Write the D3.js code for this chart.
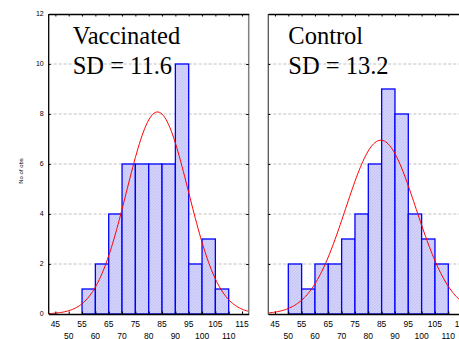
<!DOCTYPE html>
<html>
<head>
<meta charset="utf-8">
<script src="https://cdn.jsdelivr.net/npm/d3@7"></script>
<style>
  body { margin: 0; background: #fff; }
  svg { display: block; }
  .serif { font-family: "Liberation Serif", "Times New Roman", serif; }
  .sans { font-family: "Liberation Sans", Arial, sans-serif; }
</style>
</head>
<body>
<svg id="chart" width="459" height="339"></svg>
<script>
// bins are 5 units wide, starting value listed
const binStarts = [50, 55, 60, 65, 70, 75, 80, 85, 90, 95, 100, 105];
const vaccinatedCounts = [0, 1, 2, 4, 6, 6, 6, 6, 10, 2, 3, 1];
const controlCounts = [2, 1, 2, 2, 3, 4, 6, 9, 8, 4, 3, 2];
const vaccinatedFit = { mean: 83.3, sd: 11.6 };
const controlFit = { mean: 84.7, sd: 13.2 };
const xTicksUpper = [45, 55, 65, 75, 85, 95, 105, 115];
const xTicksLower = [50, 60, 70, 80, 90, 100, 110];
const yTicks = [0, 2, 4, 6, 8, 10, 12];
const binWidth = 5;

const svg = d3.select('#chart');
const plotTop = 14, plotBottom = 314, panelW = 200;

const defs = svg.append('defs');
const pat = defs.append('pattern')
    .attr('id', 'hatch')
    .attr('patternUnits', 'userSpaceOnUse')
    .attr('width', 3).attr('height', 3);
pat.append('rect').attr('width', 3).attr('height', 3).attr('fill', '#d2d2fa');
pat.append('path').attr('d', 'M-1,1 l2,-2 M0,3 l3,-3 M2,4 l2,-2')
    .attr('stroke', '#b9b9f0').attr('stroke-width', 0.6);

const y = d3.scaleLinear().domain([0, 12]).range([plotBottom, plotTop]);

function drawPanel(left, counts, fit, title, sdText, textX, showY) {
    const x = d3.scaleLinear().domain([42.5, 117.5]).range([left, left + panelW]);
    const clipId = 'clip' + Math.round(left);
    defs.append('clipPath').attr('id', clipId)
        .append('rect').attr('x', left).attr('y', plotTop)
        .attr('width', panelW).attr('height', plotBottom - plotTop);

    const g = svg.append('g');

    // grid
    g.selectAll('.grid').data(yTicks.filter(d => d > 0 && d < 12)).enter()
        .append('line')
        .attr('x1', left).attr('x2', left + panelW)
        .attr('y1', d => y(d)).attr('y2', d => y(d))
        .attr('stroke', '#b0b0b0').attr('stroke-width', 0.8)
        .attr('stroke-dasharray', '3,2');

    // titles
    g.append('text').attr('class', 'serif').attr('x', textX).attr('y', 44)
        .attr('font-size', 24.5).text(title);
    g.append('text').attr('class', 'serif').attr('x', textX).attr('y', 74)
        .attr('font-size', 24.5).text(sdText);

    // bars
    const data = binStarts.map((s, i) => ({ s, c: counts[i] })).filter(d => d.c > 0);
    g.append('g').attr('clip-path', `url(#${clipId})`)
        .selectAll('rect').data(data).enter()
        .append('rect')
        .attr('x', d => x(d.s))
        .attr('width', d => x(d.s + binWidth) - x(d.s))
        .attr('y', d => y(d.c))
        .attr('height', d => y(0) - y(d.c))
        .attr('fill', 'url(#hatch)')
        .attr('stroke', '#0000ff')
        .attr('stroke-width', 1.3);

    // fitted normal curve
    const n = d3.sum(counts);
    const pts = d3.range(42.5, 117.51, 0.5).map(v => [v,
        n * binWidth / (fit.sd * Math.sqrt(2 * Math.PI)) * Math.exp(-0.5 * ((v - fit.mean) / fit.sd) ** 2)]);
    g.append('path').datum(pts)
        .attr('clip-path', `url(#${clipId})`)
        .attr('d', d3.line().x(d => x(d[0])).y(d => y(d[1])))
        .attr('fill', 'none').attr('stroke', '#ff0000').attr('stroke-width', 1);

    // frame
    g.append('line').attr('x1', left + panelW).attr('x2', left + panelW)
        .attr('y1', plotTop).attr('y2', plotBottom)
        .attr('stroke', '#808080').attr('stroke-width', 1.5);
    g.append('line').attr('x1', left).attr('x2', left)
        .attr('y1', plotTop).attr('y2', plotBottom)
        .attr('stroke', showY ? '#000' : '#555').attr('stroke-width', 1.3);

    const xTicks = d3.range(45, 116, 5);
    // top axis with inward ticks
    g.append('g').attr('transform', `translate(0,${plotTop})`)
        .call(d3.axisBottom(x).tickValues(xTicks).tickSize(2.5).tickFormat('').tickSizeOuter(0))
        .call(a => a.select('.domain').attr('stroke-width', 1.3));
    // bottom axis with inward ticks
    g.append('g').attr('transform', `translate(0,${plotBottom})`)
        .call(d3.axisTop(x).tickValues(xTicks).tickSize(2.5).tickFormat('').tickSizeOuter(0))
        .call(a => a.select('.domain').attr('stroke-width', 1.3));
    // right inward ticks
    g.append('g').attr('transform', `translate(${left + panelW},0)`)
        .call(d3.axisLeft(y).tickValues(yTicks).tickSize(2.5).tickFormat('').tickSizeOuter(0))
        .call(a => a.select('.domain').remove());
    // left ticks
    g.append('g').attr('transform', `translate(${left},0)`)
        .call(d3.axisRight(y).tickValues(yTicks).tickSize(2).tickFormat('').tickSizeOuter(0))
        .call(a => a.select('.domain').remove());

    // x labels, two staggered rows
    const lab = g.append('g').attr('class', 'sans')
        .attr('font-size', 8.5).attr('text-anchor', 'middle');
    lab.selectAll('.u').data(xTicksUpper).enter().append('text')
        .attr('x', d => x(d)).attr('y', 327).text(d => d);
    lab.selectAll('.l').data(xTicksLower).enter().append('text')
        .attr('x', d => x(d)).attr('y', 338.5).text(d => d);

    if (showY) {
        g.append('g').attr('class', 'sans')
            .attr('font-size', 7).attr('text-anchor', 'end')
            .selectAll('text').data(yTicks).enter().append('text')
            .attr('x', left - 5).attr('y', d => y(d)).attr('dy', '0.35em').text(d => d);
        svg.append('text').attr('class', 'sans')
            .attr('transform', `translate(23,171) rotate(-90)`)
            .attr('text-anchor', 'middle')
            .attr('font-size', 6).text('No of obs');
    }
}

drawPanel(48.7, vaccinatedCounts, vaccinatedFit, 'Vaccinated', 'SD = 11.6', 72.7, true);
drawPanel(268.3, controlCounts, controlFit, 'Control', 'SD = 13.2', 288.3, false);
</script>
</body>
</html>
